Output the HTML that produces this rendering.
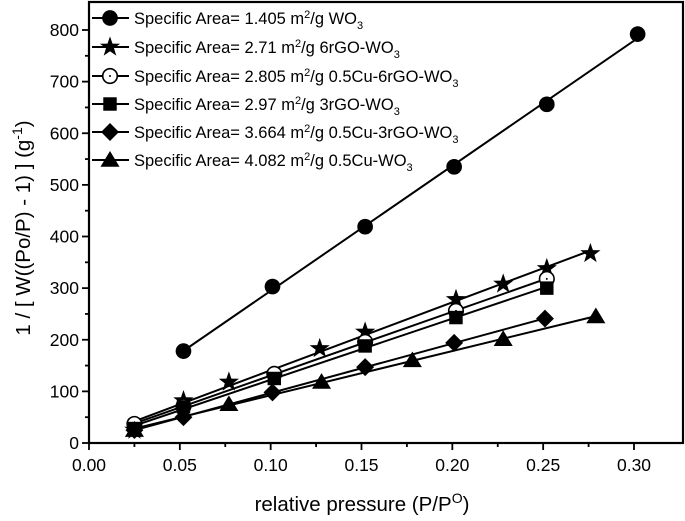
<!DOCTYPE html>
<html><head><meta charset="utf-8"><style>
body{margin:0;background:#fff}
svg text{font-family:"Liberation Sans",Arial,sans-serif;fill:#000}
</style></head><body>
<svg id="c" width="685" height="516" xmlns="http://www.w3.org/2000/svg"></svg>
<script>
const xTicks=[0,0.05,0.10,0.15,0.20,0.25,0.30];
const yTicks=[0,100,200,300,400,500,600,700,800];
const seriesNames=["Specific Area= 1.405","Specific Area= 2.71","Specific Area= 2.805","Specific Area= 2.97","Specific Area= 3.664","Specific Area= 4.082"];
const seriesSuffix=["WO","6rGO-WO","0.5Cu-6rGO-WO","3rGO-WO","0.5Cu-3rGO-WO","0.5Cu-WO"];
const markers=["circle","star","ocircle","square","diamond","triangle"];
const xWO3=[0.052,0.101,0.152,0.201,0.252,0.302];
const yWO3=[178,303,419,535,656,792];
const x6rGO=[0.025,0.052,0.077,0.127,0.152,0.202,0.228,0.252,0.276];
const y6rGO=[25,82,118,183,215,278,308,338,367];
const xCu6rGO=[0.025,0.052,0.102,0.152,0.202,0.252];
const yCu6rGO=[37,71,134,196,256,318];
const x3rGO=[0.025,0.052,0.102,0.152,0.202,0.252];
const y3rGO=[28,70,125,188,243,300];
const xCu3rGO=[0.025,0.052,0.101,0.152,0.201,0.251];
const yCu3rGO=[25,50,98,147,194,241];
const xCuWO=[0.025,0.077,0.128,0.178,0.228,0.279];
const yCuWO=[25,75,118,160,201,245];
const XS=[xWO3,x6rGO,xCu6rGO,x3rGO,xCu3rGO,xCuWO];
const YS=[yWO3,y6rGO,yCu6rGO,y3rGO,yCu3rGO,yCuWO];

const L=89,R=683,T=2,B=443;
const sx=v=>L+(v-0)/0.30*(634-L);
const sy=v=>B-v/800*(B-30);
const svg=document.getElementById('c');
const NS="http://www.w3.org/2000/svg";
function el(t,a,p){const e=document.createElementNS(NS,t);for(const k in a)e.setAttribute(k,a[k]);(p||svg).appendChild(e);return e;}

const frame=el('rect',{x:L,y:T,width:R-L,height:B-T,fill:'none',stroke:'#000','stroke-width':2.2});



xTicks.forEach((v,i)=>{
  const x=sx(v);
  el('line',{x1:x,y1:B,x2:x,y2:B+7,stroke:'#000','stroke-width':1.8});
  if(i<xTicks.length-1){const xm=sx(v+0.025);el('line',{x1:xm,y1:B,x2:xm,y2:B+4,stroke:'#000','stroke-width':1.8});}
  const t=el('text',{x:x,y:B+28,'font-size':17.5,'text-anchor':'middle'});t.textContent=v.toFixed(2);
  
  
});
yTicks.forEach((v,i)=>{
  const y=sy(v);
  el('line',{x1:L,y1:y,x2:L-7,y2:y,stroke:'#000','stroke-width':1.8});
  if(i<yTicks.length-1){const ym=sy(v+50);el('line',{x1:L,y1:ym,x2:L-4,y2:ym,stroke:'#000','stroke-width':1.8});}
  const t=el('text',{x:L-10,y:y+6,'font-size':17.5,'text-anchor':'end'});t.textContent=v;
  
  
});
const xt=el('text',{x:362,y:511,'font-size':20.5,'text-anchor':'middle'});
xt.innerHTML='relative pressure (P/P<tspan dy="-8" font-size="14">O</tspan><tspan dy="8">)</tspan>';


const yt=el('text',{x:0,y:0,'font-size':20.5,'text-anchor':'middle',transform:'translate(30,228) rotate(-90)'});
yt.innerHTML='1 / [ W((Po/P) - 1) ]  (g<tspan dy="-8" font-size="14">-1</tspan><tspan dy="8">)</tspan>';



function marker(type,x,y,s){
  s=s||1.12;
  if(type==='circle')return el('circle',{cx:x,cy:y,r:7*s,fill:'#000'});
  if(type==='ocircle'){const g=el('g',{});el('circle',{cx:x,cy:y,r:6.5*s,fill:'#fff',stroke:'#000','stroke-width':1.6},g);el('circle',{cx:x,cy:y,r:1,fill:'#000'},g);return g;}
  if(type==='square')return el('rect',{x:x-6*s,y:y-6*s,width:12*s,height:12*s,fill:'#000'});
  if(type==='diamond')return el('polygon',{points:`${x},${y-8*s} ${x+8*s},${y} ${x},${y+8*s} ${x-8*s},${y}`,fill:'#000'});
  if(type==='triangle')return el('polygon',{points:`${x},${y-8*s} ${x+8.5*s},${y+6*s} ${x-8.5*s},${y+6*s}`,fill:'#000'});
  if(type==='star'){let p=[];for(let k=0;k<10;k++){const r=(k%2?3.8:9.5)*s,a=-Math.PI/2+k*Math.PI/5;p.push((x+r*Math.cos(a)).toFixed(1)+','+(y+r*Math.sin(a)).toFixed(1));}return el('polygon',{points:p.join(' '),fill:'#000'});}
}

XS.forEach((xs,i)=>{
  const ys=YS[i];const n=xs.length;
  let mx=xs.reduce((a,b)=>a+b)/n,my=ys.reduce((a,b)=>a+b)/n,num=0,den=0;
  xs.forEach((x,j)=>{num+=(x-mx)*(ys[j]-my);den+=(x-mx)*(x-mx);});
  const m=num/den,b=my-m*mx;
  const x0=xs[0],x1=xs[n-1];
  const ln=el('line',{x1:sx(x0),y1:sy(m*x0+b),x2:sx(x1),y2:sy(m*x1+b),stroke:'#000','stroke-width':2});
  
  
  xs.forEach((x,j)=>{
    const mk=marker(markers[i],sx(x),sy(ys[j]));
    
    
  });
});

const legY=[18,47,76,104,132,160];
seriesNames.forEach((nm,i)=>{
  const y=legY[i];
  el('line',{x1:92,y1:y,x2:129,y2:y,stroke:'#000','stroke-width':2});
  const mk=marker(markers[i],110,y);
  
  
  const t=el('text',{x:134,y:y+6,'font-size':16.5});
  t.innerHTML=nm+' m<tspan dy="-6" font-size="11">2</tspan><tspan dy="6">/g '+seriesSuffix[i]+'</tspan><tspan dy="5" font-size="11">3</tspan>';
  
  
});
</script>
</body></html>
